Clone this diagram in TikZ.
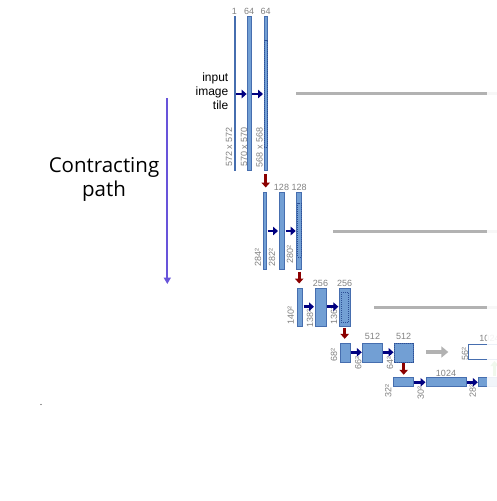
\documentclass[tikz,border=0pt]{standalone}
\usepackage{fontspec}
\setmainfont{Liberation Sans}
\newfontfamily\osans{Open Sans}
\usetikzlibrary{arrows.meta}
\definecolor{barfill}{RGB}{114,159,212}
\definecolor{bardraw}{RGB}{70,110,175}
\definecolor{dashblue}{RGB}{45,80,150}
\definecolor{dimgray}{RGB}{130,130,130}
\definecolor{navyarr}{RGB}{0,0,128}
\definecolor{redarr}{RGB}{139,0,0}
\definecolor{copygray}{RGB}{178,178,178}
\definecolor{purparr}{RGB}{104,84,218}
\definecolor{upgreen}{RGB}{110,190,80}
\begin{document}
\begin{tikzpicture}[x=1pt,y=-1pt,
  bar/.style={draw=bardraw, fill=barfill, line width=0.6pt, inner sep=0pt, outer sep=0pt, rectangle},
  emptybar/.style={draw=bardraw, fill=white, line width=0.6pt, inner sep=0pt, outer sep=0pt, rectangle},
  cropbox/.style={draw=dashblue, dashed, dash pattern=on 1pt off 1pt, line width=0.5pt},
  chan/.style={text=dimgray, font=\fontsize{9}{11}\selectfont, inner sep=0pt, anchor=base},
  dimlab/.style={text=dimgray, font=\fontsize{9}{11}\selectfont, inner sep=0pt, rotate=90, anchor=west},
  conv/.style={draw=navyarr, line width=2.8pt, -{Triangle[length=5pt,width=8.5pt]}},
  pool/.style={draw=redarr, line width=2.8pt, -{Triangle[length=5pt,width=8.5pt]}},
  copyline/.style={draw=copygray, line width=3pt},
  copyarrow/.style={draw=copygray, line width=3.5pt, -{Triangle[length=7pt,width=11pt]}},
  uparrow/.style={draw=upgreen, line width=2.6pt, -{Triangle[length=5pt,width=8pt]}},
  patharrow/.style={draw=purparr, line width=1.8pt, -{Triangle[length=6.5pt,width=7pt]}}]
\clip (0,0) rectangle (497,501);
\fill[white] (0,0) rectangle (497,501);

% ---------- level 1 ----------
\node[bar, minimum width=1pt, minimum height=154pt] (b11) at (234.5,93) {};
\node[bar, minimum width=3.2pt, minimum height=154pt] (b12) at (249.2,93) {};
\node[bar, minimum width=3.4pt, minimum height=154pt] (b13) at (265.7,93) {};
\draw[cropbox] (264.6,40) rectangle (266.8,147);
\node[chan] (c11) at (234.5,14.5) {1};
\node[chan] (c12) at (249.2,14.5) {64};
\node[chan] (c13) at (265.7,14.5) {64};
\node[dimlab] (d11) at (229,167) {572 x 572};
\node[dimlab] (d12) at (244,167) {570 x 570};
\node[dimlab] (d13) at (259.5,167.5) {568 x 568};
\node[inner sep=0pt, anchor=north east, align=right, font=\fontsize{12}{14.3}\selectfont] (inp) at (228.5,72.5) {input\\image\\tile};
\draw[conv, shorten <=1pt, shorten >=1pt] (b11.east |- 0,94) -- (b12.west |- 0,94);
\draw[conv, shorten <=1pt, shorten >=1pt] (b12.east |- 0,94) -- (b13.west |- 0,94);
\coordinate (cp1s) at (296,93);
\coordinate (cp1e) at (510,93);
\draw[copyline] (cp1s) -- (cp1e);

% ---------- level 2 ----------
\node[bar, minimum width=2.8pt, minimum height=77pt] (b21) at (264.7,230.5) {};
\node[bar, minimum width=5pt, minimum height=77pt] (b22) at (281.5,230.5) {};
\node[bar, minimum width=5pt, minimum height=77pt] (b23) at (299.2,230.5) {};
\draw[cropbox] (297.6,203) rectangle (300.8,257);
\node[chan] (c22) at (281.5,190.5) {128};
\node[chan] (c23) at (299.2,190.5) {128};
\node[dimlab] (d21) at (258,267) {284²};
\node[dimlab] (d22) at (272,267) {282²};
\node[dimlab] (d23) at (290,264) {280²};
\draw[pool, shorten <=4pt, shorten >=4.5pt] (b13.south) -- (b13.south |- b21.north);
\draw[conv, shorten <=1.5pt, shorten >=1pt] (b21.east |- 0,231) -- (b22.west |- 0,231);
\draw[conv, shorten <=1.5pt, shorten >=1pt] (b22.east |- 0,231) -- (b23.west |- 0,231);
\coordinate (cp2s) at (333,231);
\coordinate (cp2e) at (510,231);
\draw[copyline] (cp2s) -- (cp2e);

% ---------- level 3 ----------
\node[bar, minimum width=5.4pt, minimum height=38pt] (b31) at (300,307) {};
\node[bar, minimum width=11pt, minimum height=38pt] (b32) at (320.5,307) {};
\node[bar, minimum width=10.7pt, minimum height=38pt] (b33) at (344.7,307) {};
\draw[cropbox] (340.8,292) rectangle (348.6,322);
\node[chan] (c32) at (320.5,286.5) {256};
\node[chan] (c33) at (344.7,286.5) {256};
\node[dimlab] (d31) at (290.7,325) {140²};
\node[dimlab] (d32) at (310,327.5) {138²};
\node[dimlab] (d33) at (334,325) {136²};
\draw[pool, shorten <=2.5pt, shorten >=4.5pt] (b23.south) -- (b23.south |- b31.north);
\draw[conv, shorten <=1pt, shorten >=1pt] (b31.east |- 0,306.7) -- (b32.west |- 0,306.7);
\draw[conv, shorten <=1pt, shorten >=1pt] (b32.east |- 0,306.7) -- (b33.west |- 0,306.7);
\coordinate (cp3s) at (374,307);
\coordinate (cp3e) at (510,307);
\draw[copyline] (cp3s) -- (cp3e);

% ---------- level 4 ----------
\node[bar, minimum width=10pt, minimum height=19pt] (b41) at (345,352.3) {};
\node[bar, minimum width=20.4pt, minimum height=19pt] (b42) at (372.5,352.3) {};
\node[bar, minimum width=19.3pt, minimum height=19pt] (b43) at (403.7,352.3) {};
\draw[cropbox] (b43.north west) rectangle (b43.south east);
\node[chan] (c42) at (372.5,339.5) {512};
\node[chan] (c43) at (403.7,339.5) {512};
\node[dimlab] (d41) at (334,362) {68²};
\node[dimlab] (d42) at (358.3,370) {66²};
\node[dimlab] (d43) at (390,370) {64²};
\draw[pool, shorten <=2pt, shorten >=4pt] (b33.south) -- (b33.south |- b41.north);
\draw[conv, shorten <=0.5pt, shorten >=0.5pt] (b41.east |- 0,352.3) -- (b42.west |- 0,352.3);
\draw[conv, shorten <=0.5pt, shorten >=0.5pt] (b42.east |- 0,352.3) -- (b43.west |- 0,352.3);
\node[emptybar, minimum width=42pt, minimum height=15.3pt] (e4) at (489.3,351.6) {};
\node[chan] (ce4) at (489.5,341.5) {1024};
\node[dimlab] (de4) at (465,360.5) {56²};
\draw[copyarrow, shorten <=13pt, shorten >=20pt] (b43.east |- 0,352) -- (e4.west |- 0,352);

% ---------- level 5 ----------
\node[bar, minimum width=20pt, minimum height=8.7pt] (b51) at (403.3,381.6) {};
\node[bar, minimum width=40pt, minimum height=8.7pt] (b52) at (446,381.6) {};
\node[bar, minimum width=32pt, minimum height=8.7pt] (b53) at (494.3,381.6) {};
\node[chan] (c52) at (446,376) {1024};
\node[dimlab] (d51) at (388.3,398) {32²};
\node[dimlab] (d52) at (420.7,400) {30²};
\node[dimlab] (d53) at (472.7,398) {28²};
\draw[pool, shorten <=1.5pt, shorten >=2.5pt] (b43.south) -- (b43.south |- b51.north);
\draw[conv, shorten <=0.5pt, shorten >=0.5pt] (b51.east |- 0,382.3) -- (b52.west |- 0,382.3);
\draw[conv, shorten <=0.5pt, shorten >=0.5pt] (b52.east |- 0,382.3) -- (b53.west |- 0,382.3);
\draw[uparrow, shorten <=1pt, shorten >=1pt] (494.5,377.3) -- (494.5,360);

% ---------- faded right edge ----------
\fill[white, opacity=0.9] (487,0) rectangle (497,501);

% ---------- contracting path ----------
\node[inner sep=0pt, align=center, font=\osans\fontsize{20.5}{24}\selectfont] (cpath) at (104,179.5) {Contracting\\path};
\coordinate (pa) at (167.3,98);
\coordinate (pb) at (167.3,284);
\draw[patharrow] (pa) -- (pb);

% tiny dot
\fill[black!80] (41,404.5) circle (0.6pt);
\end{tikzpicture}
\end{document}
